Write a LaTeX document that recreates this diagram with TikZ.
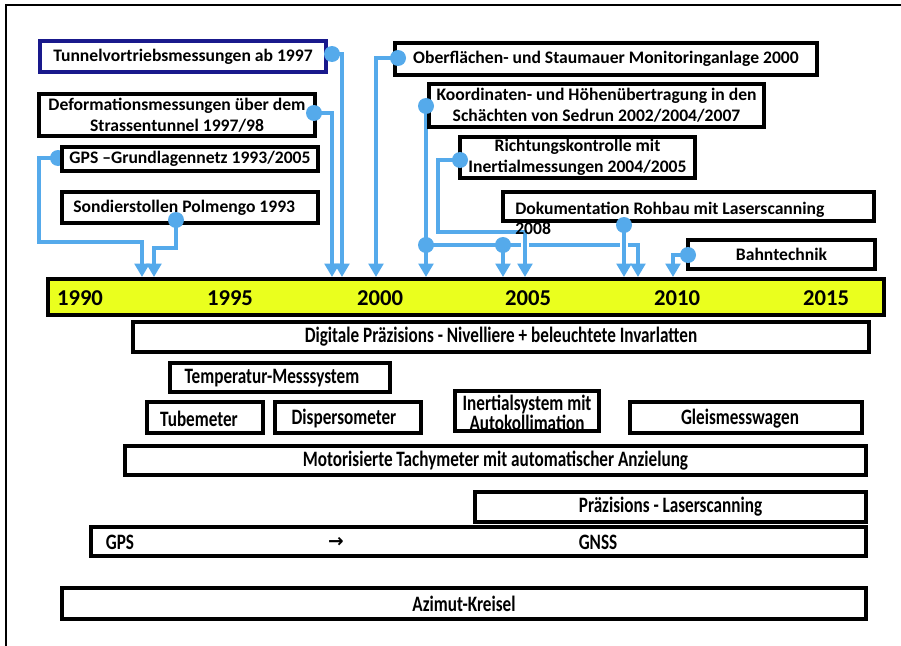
\documentclass[tikz,border=0pt]{standalone}
\usepackage{fontspec}
\setmainfont{Carlito}
\newfontfamily\condfont[FakeStretch=0.78]{Carlito}
\newfontfamily\symfont{DejaVu Sans}
\usetikzlibrary{arrows.meta}
\definecolor{conn}{RGB}{85,170,235}
\definecolor{barY}{RGB}{234,255,30}
\definecolor{navy}{RGB}{25,25,140}
\newcommand{\tbox}[7]{\node[#6, minimum width={(#3-#1)*0.75pt}, minimum height={(#4-#2)*0.75pt}] (#5) at ({(#1+#3)/2},{(#2+#4)/2}) {#7};}
\begin{document}
\begin{tikzpicture}[x=0.75pt,y=-0.75pt,
  box/.style={draw=black,line width=2.9pt,fill=white,inner sep=0pt,align=center},
  ubox/.style={box,font=\fontsize{13.2}{15.8}\selectfont\bfseries},
  lbox/.style={box,font=\condfont\bfseries\fontsize{16.5}{15}\selectfont},
  wire/.style={draw=conn,line width=2.3pt},
  arr/.style={wire,-{Triangle[width=11pt,length=10pt]}},
  gap/.style={preaction={draw=white,line width=6pt,arrows=-}},
  dotc/.style={circle,fill=conn,inner sep=0pt,minimum size=12pt},
  utxt/.style={inner sep=0pt,font=\fontsize{13.2}{15.8}\selectfont\bfseries},
  ltxt/.style={inner sep=0pt,font=\condfont\bfseries\fontsize{16.5}{15}\selectfont},
  yr/.style={inner sep=0pt,font=\fontsize{17}{20}\selectfont\bfseries}]
\useasboundingbox (0,0) rectangle (901,646);
\draw[line width=1.5pt] (901,5) -- (6,5) -- (6,646);

% timeline bar
\tbox{48}{279}{884}{315}{bar}{box,fill=barY,line width=3.3pt}{}
\node[yr] (y1990) at (80,298) {1990};
\node[yr] (y1995) at (230,298) {1995};
\node[yr] (y2000) at (380,298) {2000};
\node[yr] (y2005) at (528,298) {2005};
\node[yr] (y2010) at (677,298) {2010};
\node[yr] (y2015) at (826,298) {2015};

% connector points
\coordinate (dT) at (332,54);   \coordinate (aT) at (342,277);
\coordinate (dD) at (314,113);  \coordinate (aD) at (332,277);
\coordinate (dG) at (58,158);   \coordinate (aG) at (142,277);
\coordinate (dS) at (176,220);  \coordinate (aS) at (154,277);
\coordinate (dO) at (398,58);   \coordinate (aO) at (376,277);
\coordinate (dK) at (426,106);  \coordinate (aK1) at (426,277);
\coordinate (jK1) at (426,245); \coordinate (jK2) at (503,245);
\coordinate (aK2) at (503,277); \coordinate (aK3) at (638,277);
\coordinate (dR) at (460,160);  \coordinate (aR) at (525,277);
\coordinate (dDo) at (624,225); \coordinate (aDo) at (624,277);
\coordinate (dB) at (688,255);  \coordinate (aB) at (673,277);

\draw[arr] (dT) -| (aT);
\draw[arr] (dD) -| (aD);
\draw[arr] (dG) -- (39,158) -- (39,242) -| (aG);
\node[dotc] (nG) at (dG) {};
\draw[arr] (dS) -- (176,248) -| (aS);
\draw[arr] (dO) -| (aO);
\draw[arr] (dK) -- (aK1);
\draw[arr] (jK1) -| (aK3);
\draw[arr] (jK2) -- (aK2);
\draw[arr,gap] (dR) -- (438,160) -- (438,232) -| (aR);
\draw[arr,gap] (dDo) -- (aDo);
\draw[arr] (dB) -| (aB);

% upper boxes
\tbox{40}{41}{326}{72}{bT}{ubox,draw=navy}{Tunnelvortriebsmessungen ab 1997}
\tbox{39}{94}{315}{136}{bD}{ubox}{Deformationsmessungen über dem\\Strassentunnel 1997/98}
\tbox{62}{147}{318}{171}{bG}{ubox}{GPS –Grundlagennetz 1993/2005}
\tbox{62}{192}{318}{223}{bS}{ubox}{}
\node[utxt,anchor=base west] (tS) at (73,212) {Sondierstollen Polmengo 1993};
\tbox{395}{43}{817}{75}{bO}{ubox}{Oberflächen- und Staumauer Monitoringanlage 2000}
\tbox{429}{84}{764}{127}{bK}{ubox}{Koordinaten- und Höhenübertragung in den\\Schächten von Sedrun 2002/2004/2007}
\tbox{460}{137}{695}{178}{bR}{ubox}{Richtungskontrolle mit\\Inertialmessungen 2004/2005}
\tbox{503}{192}{874}{221}{bDo}{ubox}{}
\node[utxt,anchor=base west] (tDo1) at (515,214) {Dokumentation Rohbau mit Laserscanning};
\node[utxt,anchor=base west] (tDo2) at (515,234) {2008};
\tbox{688}{240}{875}{269}{bB}{ubox}{Bahntechnik}

% dots on top
\node[dotc] (nT) at (dT) {};
\node[dotc] (nD) at (dD) {};
\node[dotc] (nS) at (dS) {};
\node[dotc] (nO) at (dO) {};
\node[dotc] (nK) at (dK) {};
\node[dotc] (nK1) at (jK1) {};
\node[dotc] (nK2) at (jK2) {};
\node[dotc] (nR) at (dR) {};
\node[dotc] (nDo) at (dDo) {};
\node[dotc] (nB) at (dB) {};

% lower boxes
\tbox{133}{322}{869}{352}{lDig}{lbox}{Digitale Präzisions - Nivelliere + beleuchtete Invarlatten}
\tbox{170}{363}{390}{392}{lTemp}{lbox}{}
\node[ltxt] (tTemp) at (272,378) {Temperatur-Messsystem};
\tbox{147}{402}{263}{433}{lTube}{lbox}{}
\node[ltxt] (tTube) at (199,419) {Tubemeter};
\tbox{275}{402}{421}{433}{lDisp}{lbox}{}
\node[ltxt] (tDisp) at (344,419) {Dispersometer};
\tbox{455}{391}{599}{431}{lIner}{lbox}{}
\node[ltxt,align=center] (tIner) at (527,413) {Inertialsystem mit\\Autokollimation};
\tbox{630}{402}{862}{433}{lGleis}{lbox}{}
\node[ltxt] (tGleis) at (740,419) {Gleismesswagen};
\tbox{125}{446}{866}{475}{lMot}{lbox}{Motorisierte Tachymeter mit automatischer Anzielung}
\tbox{475}{492}{866}{522}{lLas}{lbox}{Präzisions - Laserscanning}
\tbox{91}{527}{866}{556}{lGps}{lbox}{}
\node[ltxt] (tGps) at (120,542) {GPS};
\node[inner sep=0pt,font=\symfont\bfseries\fontsize{14}{16}\selectfont] (tArr) at (336,542) {→};
\node[ltxt] (tGnss) at (598,542) {GNSS};
\tbox{62}{588}{866}{619}{lAz}{lbox}{Azimut-Kreisel}
\end{tikzpicture}
\end{document}
